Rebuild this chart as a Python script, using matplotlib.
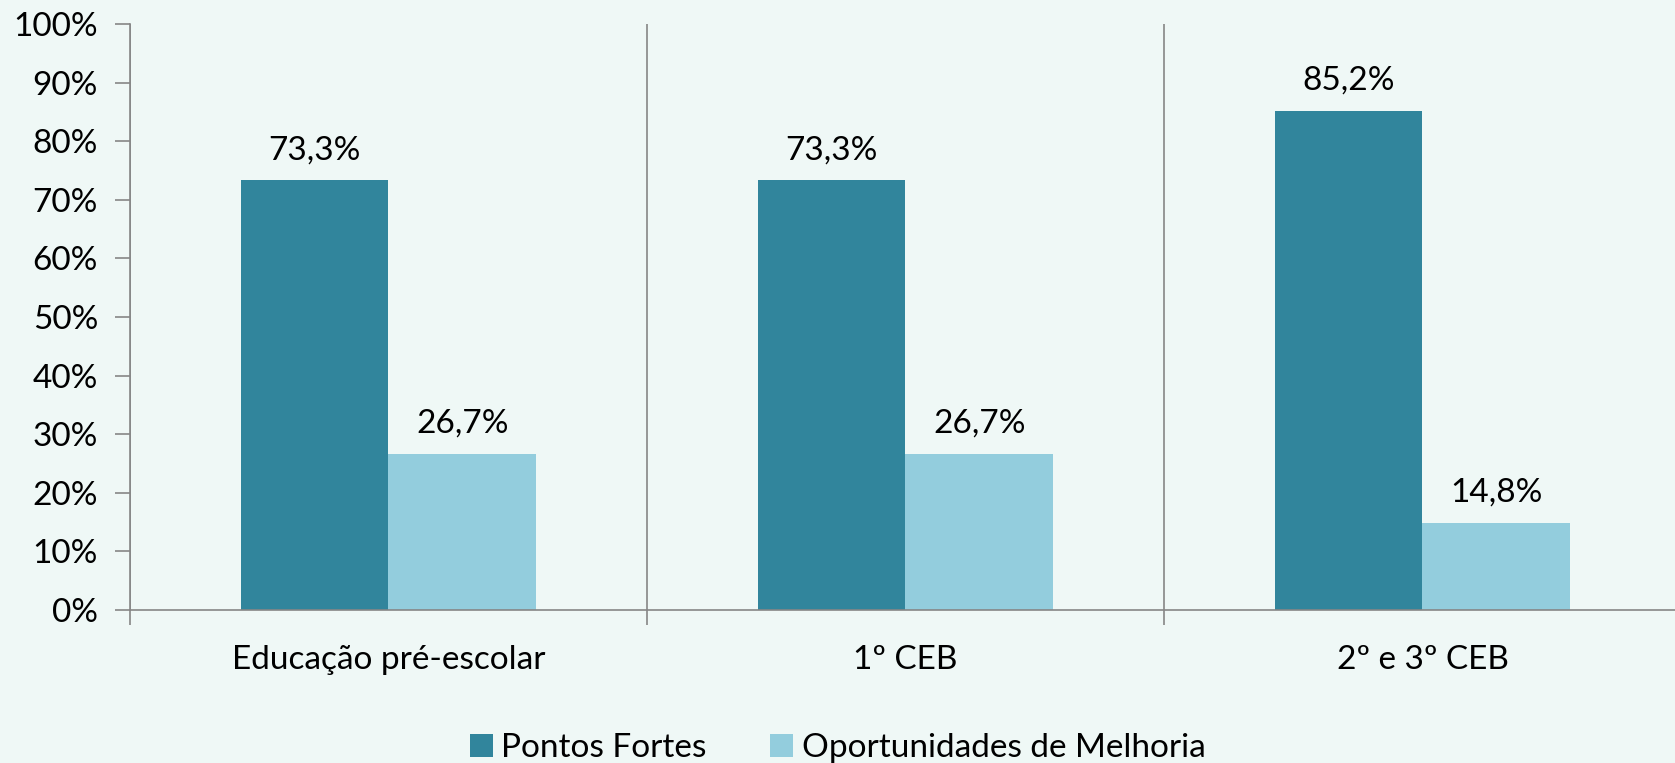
import numpy as np
import matplotlib.pyplot as plt
from matplotlib.ticker import FixedLocator, PercentFormatter

#----------------------------------------------------------------
# data:

categories = ["Educação pré-escolar", "1º CEB", "2º e 3º CEB"]
pontos_fortes = [73.3, 73.3, 85.2]
oportunidades = [26.7, 26.7, 14.8]
series_names = ["Pontos Fortes", "Oportunidades de Melhoria"]

#----------------------------------------------------------------
# style:

bg = "#EFF8F6"
dark = "#31859C"
light = "#93CDDD"
axis_col = "#868686"
fs = 24

plt.rcParams['font.family'] = ['Lato', 'DejaVu Sans']

fig = plt.figure(figsize=(16.75, 7.63), dpi=100, facecolor=bg)
ax = fig.add_axes([130 / 1675, 1 - 610 / 763, 1551 / 1675, (610 - 24) / 763])
ax.set_facecolor(bg)

x = np.arange(len(categories))
w = 0.286

b1 = ax.bar(x - w / 2, pontos_fortes, w, color=dark, label=series_names[0])
b2 = ax.bar(x + w / 2, oportunidades, w, color=light, label=series_names[1])

# value labels
for bars, vals in ((b1, pontos_fortes), (b2, oportunidades)):
    for rect, v in zip(bars, vals):
        ax.annotate(f"{v:.1f}%".replace(".", ","),
                    (rect.get_x() + rect.get_width() / 2, v),
                    xytext=(0, 11), textcoords="offset points",
                    ha="center", va="bottom", fontsize=fs)

ax.set_xlim(-0.5, len(categories) - 0.5)
ax.set_ylim(0, 100)
ax.set_yticks(np.arange(0, 101, 10))
ax.yaxis.set_major_formatter(PercentFormatter(decimals=0))

# category labels centred, tick marks / separators at group edges
ax.set_xticks(x)
ax.set_xticklabels(categories)
ax.tick_params(axis="x", which="major", length=0, labelsize=fs, pad=25)
ax.xaxis.set_minor_locator(FixedLocator(np.arange(len(categories) + 1) - 0.5))
ax.tick_params(axis="x", which="minor", length=11, color=axis_col, width=1.2)
ax.grid(axis="x", which="minor", color=axis_col, linewidth=1.2)
ax.tick_params(axis="y", length=11, color=axis_col, width=1.2, labelsize=fs, pad=12)

for side in ("top", "right"):
    ax.spines[side].set_visible(False)
for side in ("left", "bottom"):
    ax.spines[side].set_color(axis_col)
    ax.spines[side].set_linewidth(1.2)

fig.legend(loc="center", bbox_to_anchor=(0.5, 1 - 748 / 763), ncol=2,
           frameon=False, fontsize=fs, handlelength=0.7, handleheight=0.7,
           handletextpad=0.25, columnspacing=1.9)

fig.savefig("out.png", dpi=100, facecolor=bg)
